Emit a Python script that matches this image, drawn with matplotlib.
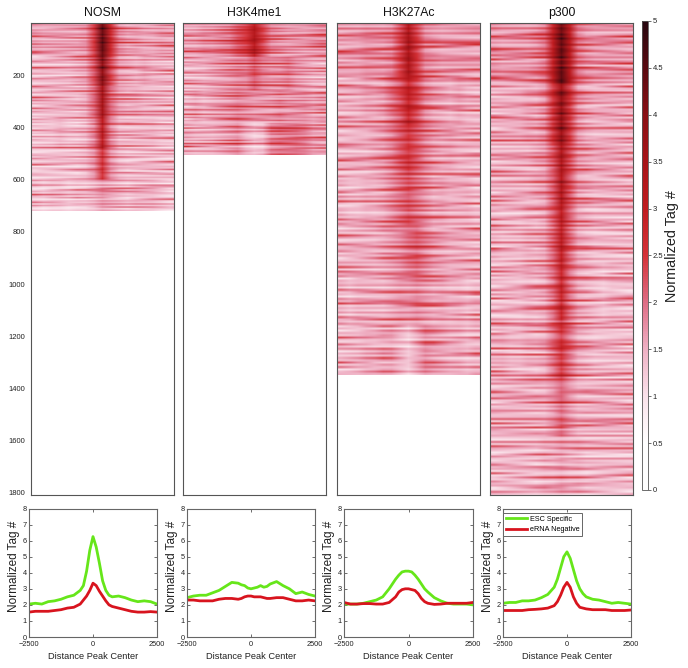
import numpy as np
import matplotlib
matplotlib.use("Agg")
import matplotlib.pyplot as plt
from matplotlib.colors import LinearSegmentedColormap

plt.rcParams["font.family"] = ["Liberation Sans", "DejaVu Sans"]

W, H = 688, 668

titles = ["NOSM", "H3K4me1", "H3K27Ac", "p300"]
row_counts = [720, 505, 1347, 1808]
heat_yticks = [200, 400, 600, 800, 1000, 1200, 1400, 1600, 1800]
cbar_ticks = [0, 0.5, 1, 1.5, 2, 2.5, 3, 3.5, 4, 4.5, 5]
cbar_labels = ["0", "0.5", "1", "1.5", "2", "2.5", "3", "3.5", "4", "4.5", "5"]

# coarse tag levels: one row per block of peaks, 17 bins across
nosm_levels = [
    [1.8, 1.7, 1.7, 1.7, 1.7, 1.7, 1.8, 2.5, 4.4, 2.8, 1.9, 1.7, 1.7, 1.6, 1.6, 1.7, 1.7],
    [1.5, 1.5, 1.5, 1.5, 1.5, 1.6, 1.7, 2.3, 4.0, 2.4, 1.7, 1.6, 1.5, 1.6, 1.5, 1.5, 1.5],
    [1.5, 1.5, 1.5, 1.5, 1.5, 1.5, 1.6, 2.1, 3.5, 2.1, 1.7, 1.6, 1.6, 1.5, 1.5, 1.5, 1.5],
    [1.4, 1.4, 1.4, 1.5, 1.4, 1.4, 1.5, 1.9, 3.1, 1.9, 1.5, 1.5, 1.5, 1.5, 1.5, 1.4, 1.4],
    [1.4, 1.4, 1.4, 1.4, 1.4, 1.4, 1.5, 1.8, 2.6, 1.8, 1.5, 1.4, 1.4, 1.4, 1.4, 1.4, 1.4],
    [1.4, 1.3, 1.4, 1.4, 1.3, 1.4, 1.4, 1.5, 1.7, 1.6, 1.5, 1.4, 1.5, 1.5, 1.5, 1.4, 1.3],
]
h3k4_levels = [
    [1.7, 1.7, 1.8, 1.8, 1.9, 2.0, 2.3, 2.5, 3.2, 2.4, 1.9, 1.8, 1.7, 1.7, 1.7, 1.8, 1.9],
    [1.5, 1.5, 1.5, 1.6, 1.7, 1.8, 1.9, 1.9, 2.2, 1.9, 1.8, 1.8, 1.9, 1.7, 1.6, 1.5, 1.5],
    [1.5, 1.6, 1.5, 1.6, 1.7, 1.8, 1.9, 1.8, 1.7, 1.7, 1.7, 1.8, 1.7, 1.7, 1.7, 1.6, 1.7],
    [1.6, 1.5, 1.5, 1.5, 1.6, 1.7, 1.8, 1.5, 1.3, 1.4, 1.9, 2.0, 2.0, 2.0, 1.9, 1.7, 1.7],
]
h3k27_levels = [
    [1.7, 1.7, 1.7, 1.8, 1.8, 1.8, 1.9, 2.4, 3.4, 2.5, 1.9, 1.8, 1.7, 1.7, 1.7, 1.7, 1.7],
    [1.5, 1.5, 1.5, 1.6, 1.6, 1.7, 2.0, 2.3, 2.9, 2.4, 1.9, 1.7, 1.6, 1.5, 1.6, 1.5, 1.5],
    [1.5, 1.5, 1.5, 1.5, 1.6, 1.7, 1.9, 2.2, 2.5, 2.2, 1.9, 1.7, 1.6, 1.6, 1.5, 1.5, 1.5],
    [1.5, 1.4, 1.4, 1.5, 1.5, 1.6, 1.8, 2.0, 2.2, 2.0, 1.8, 1.6, 1.6, 1.5, 1.5, 1.5, 1.4],
    [1.5, 1.5, 1.5, 1.5, 1.5, 1.6, 1.7, 1.8, 2.0, 2.1, 1.9, 1.7, 1.6, 1.5, 1.5, 1.5, 1.5],
    [1.5, 1.4, 1.5, 1.5, 1.5, 1.5, 1.6, 1.7, 1.7, 1.8, 1.7, 1.6, 1.6, 1.5, 1.5, 1.4, 1.5],
    [1.4, 1.4, 1.4, 1.5, 1.5, 1.6, 1.6, 1.4, 1.2, 1.5, 1.8, 1.7, 1.6, 1.5, 1.5, 1.4, 1.5],
]
p300_levels = [
    [1.8, 1.7, 1.7, 1.7, 1.7, 1.8, 2.0, 3.0, 4.3, 3.1, 2.0, 1.8, 1.7, 1.7, 1.7, 1.7, 1.7],
    [1.5, 1.5, 1.5, 1.5, 1.6, 1.6, 1.8, 2.6, 3.8, 2.6, 1.8, 1.6, 1.5, 1.5, 1.5, 1.5, 1.5],
    [1.5, 1.5, 1.5, 1.5, 1.5, 1.6, 1.7, 2.2, 3.3, 2.3, 1.7, 1.6, 1.5, 1.5, 1.5, 1.5, 1.5],
    [1.5, 1.4, 1.4, 1.4, 1.5, 1.5, 1.6, 2.1, 3.0, 2.1, 1.6, 1.5, 1.4, 1.4, 1.4, 1.4, 1.4],
    [1.4, 1.4, 1.4, 1.4, 1.5, 1.5, 1.6, 2.0, 2.8, 2.0, 1.6, 1.5, 1.4, 1.3, 1.4, 1.4, 1.4],
    [1.5, 1.5, 1.4, 1.4, 1.5, 1.5, 1.6, 2.0, 2.5, 2.0, 1.6, 1.5, 1.4, 1.4, 1.4, 1.4, 1.4],
    [1.5, 1.5, 1.5, 1.5, 1.5, 1.5, 1.5, 1.7, 2.0, 1.7, 1.5, 1.5, 1.5, 1.5, 1.5, 1.5, 1.5],
    [1.4, 1.4, 1.4, 1.4, 1.4, 1.4, 1.5, 1.5, 1.6, 1.5, 1.5, 1.4, 1.4, 1.4, 1.4, 1.4, 1.4],
]

# fine streaks, estimated by eye and not line by line: one digit per thin row, one string per
# stretch of the panel width. streak_steps gives the tag change for each digit.
streak_steps = [-0.45, -0.3, -0.2, -0.1, 0.0, 0.1, 0.2, 0.4, 0.65, 0.9]
nosm_streaks = [
    "631042538104271503862013740295136017420385126039471502816304172605318240716305283104627315904213650271483016295304817203",
    "152740361805243716024938150472613084251706392414036285170432916050372841630527194063281547203860142753160294371805264013",
    "304816250372914063528107342695013724806152340871936205417382051693024718360542917306284015736208415372061938425016372804",
    "270513846021739405162837041526908314275603182470536192048375126084317250693142605817340296153804726135087241630592173640",
]
h3k4_streaks = [
    "72305146803725016493208517364026815037492160738405217603842917052361804732615084902713",
    "40618273051946032857140362905183647201538046172935014682730615940238517603428196053742",
    "53172604839150264738016452907314680253719405628130746295013864270315948260173584016327",
    "26405318720637491502386174053928164073512860394172605834719026345182760431956027381542",
]
h3k27_streaks = [
    "51703826140397250618324705196328047153602847195036214873051692438017253604817293045162837405196028347150263918470536182407391526084371506293184705263918045172",
    "30618472503916284057136294018573260481735029164730582417036925184063725149036281754026391847053162840729351604827136059324871506239148073652410837295061483",
    "72405136829014637250481936027518463079215038462917350482617039254180637291450263817049526301847362950184273605194826037154289036147025386140972351604837261",
    "14637205892130476251840397261504836172905413627085193462078153406297135804627319056248137096254803172640953182746035129804673251908436172085314629703518246",
]
p300_streaks = [
    "61730285140396271805324716950382417053628140793625018473926051483702615948027361504829173460258139470625183097426153084927163504817290361485027396150842763190482536170948263701594382061475238091764352081964027315846091327560184",
    "30715948260371849025163874096231578402691537048162950374826150739462810537249061386250147930682415073926184705263190845372610498253716048925306178429013657284091635720148396527014863925170348261905743182650493271086413950278461",
    "82460137529148036275094136827501496372810549362071853042617395084261739540128367150294836017425938160247531896042713685204971350682149037526184093752610483975216304817259063142785036915247036819425170385296140736258104932761580",
    "17350492681403726159048372615094283716509342817604935128470632915840372519604183725069148327506194283071652493801627354091876235014796382051473926805134729061835417026395180472639150283746018592436071528394601723581469027345106",
]

# average profiles below the heatmaps
profile_x = [-2500, -2250, -2000, -1750, -1500, -1250, -1000, -750, -500, -375, -250, -125, 0,
             125, 250, 375, 500, 625, 750, 1000, 1250, 1500, 1750, 2000, 2250, 2500]
nosm_esc = [2.05, 2.1, 2.05, 2.2, 2.25, 2.35, 2.5, 2.6, 2.9, 3.2, 4.1, 5.4, 6.25,
            5.6, 4.6, 3.5, 2.9, 2.6, 2.5, 2.55, 2.45, 2.3, 2.2, 2.25, 2.2, 2.05]
nosm_erna = [1.55, 1.6, 1.6, 1.6, 1.65, 1.7, 1.8, 1.85, 2.05, 2.3, 2.55, 2.9, 3.35,
             3.2, 2.85, 2.55, 2.25, 2.0, 1.9, 1.8, 1.7, 1.6, 1.55, 1.55, 1.58, 1.55]
h3k4_esc = [2.45, 2.55, 2.6, 2.6, 2.75, 2.9, 3.15, 3.4, 3.35, 3.25, 3.2, 3.05, 3.0,
            3.05, 3.1, 3.2, 3.1, 3.15, 3.3, 3.45, 3.2, 3.0, 2.7, 2.8, 2.65, 2.55]
h3k4_erna = [2.3, 2.3, 2.25, 2.25, 2.25, 2.35, 2.4, 2.4, 2.35, 2.4, 2.5, 2.55, 2.55,
             2.5, 2.5, 2.5, 2.45, 2.4, 2.4, 2.45, 2.45, 2.35, 2.25, 2.25, 2.3, 2.25]
h3k27_esc = [2.05, 2.05, 2.05, 2.1, 2.2, 2.3, 2.5, 3.0, 3.6, 3.85, 4.05, 4.1, 4.1,
             4.05, 3.85, 3.6, 3.3, 3.0, 2.8, 2.45, 2.25, 2.1, 2.05, 2.05, 2.05, 2.0]
h3k27_erna = [2.15, 2.05, 2.05, 2.08, 2.08, 2.05, 2.05, 2.15, 2.5, 2.8, 2.95, 3.0, 3.0,
              2.95, 2.9, 2.7, 2.4, 2.2, 2.1, 2.03, 2.05, 2.1, 2.1, 2.1, 2.1, 2.15]
p300_esc = [2.1, 2.15, 2.15, 2.25, 2.25, 2.3, 2.45, 2.65, 3.1, 3.6, 4.3, 5.0, 5.3,
            4.9, 4.2, 3.5, 3.0, 2.7, 2.5, 2.35, 2.3, 2.2, 2.1, 2.15, 2.1, 2.05]
p300_erna = [1.65, 1.65, 1.65, 1.65, 1.7, 1.72, 1.75, 1.8, 1.95, 2.2, 2.6, 3.1, 3.4,
             3.1, 2.5, 2.1, 1.85, 1.8, 1.75, 1.7, 1.7, 1.7, 1.65, 1.65, 1.65, 1.68]

levels = [nosm_levels, h3k4_levels, h3k27_levels, p300_levels]
streaks = [nosm_streaks, h3k4_streaks, h3k27_streaks, p300_streaks]
esc = [nosm_esc, h3k4_esc, h3k27_esc, p300_esc]
erna = [nosm_erna, h3k4_erna, h3k27_erna, p300_erna]

cmap = LinearSegmentedColormap.from_list("tags", [
    (0.0, "#ffffff"), (0.1, "#ffffff"), (0.2, "#fae2ea"), (0.3, "#efb0c4"), (0.4, "#de6c84"),
    (0.5, "#d53238"), (0.6, "#c01c20"), (0.7, "#a81418"), (0.8, "#8a0f14"), (0.9, "#5a0a10"),
    (1.0, "#280810")])


def px_axes(fig, x0, y0, x1, y1):
    return fig.add_axes([x0 / W, 1 - y1 / H, (x1 - x0) / W, (y1 - y0) / H])


def build_matrix(level, strings):
    n = min(len(s) for s in strings)
    level = np.array(level)
    cols = level.shape[1]
    steps = np.array(streak_steps)
    offs = np.array([[steps[int(c)] for c in s[:n]] for s in strings])
    mat = np.zeros((n, cols))
    for b, rows in enumerate(np.array_split(np.arange(n), len(level))):
        mat[rows] = level[b]
    # each string covers its own stretch, blended into the next one
    where = np.linspace(0, len(strings) - 1, cols)
    for c in range(cols):
        lo = int(np.floor(where[c]))
        hi = min(lo + 1, len(strings) - 1)
        f = where[c] - lo
        mat[:, c] += (1 - f) * offs[lo] + f * offs[hi]
    return mat


fig = plt.figure(figsize=(W / 100, H / 100), dpi=100)

heat_x = [(31, 174), (183, 326), (337, 480), (490, 633)]
line_x = [(29, 157), (187, 315), (344, 473), (503, 631)]

for i in range(4):
    ax = px_axes(fig, heat_x[i][0], 23, heat_x[i][1], 495)
    mat = build_matrix(levels[i], streaks[i])
    im = ax.imshow(mat, cmap=cmap, vmin=0, vmax=5, aspect="auto", interpolation="bilinear",
                   extent=[-2500, 2500, row_counts[i], 0])
    ax.set_xlim(-2500, 2500)
    ax.set_ylim(1808, 0)
    ax.set_xticks([])
    if i == 0:
        ax.set_yticks(heat_yticks)
        ax.tick_params(axis="y", length=0, labelsize=5.5, pad=4, colors="#222222")
    else:
        ax.set_yticks([])
    ax.set_title(titles[i], fontsize=8.8, pad=5, color="#111111")
    for s in ax.spines.values():
        s.set_color("#555555")
        s.set_linewidth(0.8)

    ax2 = px_axes(fig, line_x[i][0], 508.5, line_x[i][1], 637)
    ax2.plot(profile_x, esc[i], color="#66e61a", lw=2, label="ESC Specific")
    ax2.plot(profile_x, erna[i], color="#d8141e", lw=2, label="eRNA Negative")
    ax2.set_xlim(-2500, 2500)
    ax2.set_ylim(0, 8)
    ax2.set_xticks([-2500, 0, 2500])
    ax2.set_yticks(range(0, 9))
    ax2.tick_params(direction="in", top=True, right=True, length=2, width=0.5, labelsize=5.3, pad=1.5,
                    color="#333333", labelcolor="#222222")
    ax2.tick_params(axis="x", pad=3)
    ax2.set_xlabel("Distance Peak Center", fontsize=6.7, labelpad=3, color="#222222")
    ax2.set_ylabel("Normalized Tag #", fontsize=8.5, labelpad=2, color="#222222", y=0.553)
    for s in ax2.spines.values():
        s.set_color("#666666")
        s.set_linewidth(0.8)
    if i == 3:
        leg = ax2.legend(loc="upper left", bbox_to_anchor=(0, 0.965), fontsize=5.2, fancybox=False,
                         framealpha=1, edgecolor="#666666", borderaxespad=0, borderpad=0.35,
                         handlelength=3.0, handletextpad=0.35, labelspacing=0.5)
        leg.get_frame().set_linewidth(0.7)

cax = px_axes(fig, 642, 21, 648, 490)
cbar = fig.colorbar(im, cax=cax, ticks=cbar_ticks)
cbar.ax.set_yticklabels(cbar_labels)
cbar.ax.tick_params(length=2, width=0.5, labelsize=5.5, pad=1.5, color="#333333", labelcolor="#222222")
cbar.outline.set_edgecolor("#555555")
cbar.outline.set_linewidth(0.6)
fig.text(672 / W, 1 - 246 / H, "Normalized Tag #", rotation=90, fontsize=10.4, ha="center", va="center",
         color="#222222")

fig.savefig("out.png", dpi=100)
